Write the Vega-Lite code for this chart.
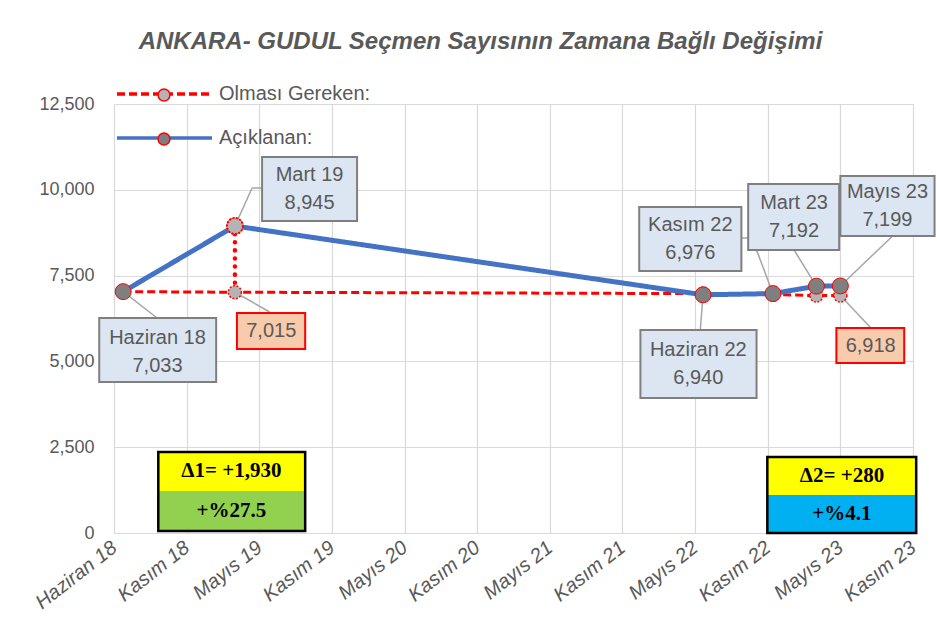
{
  "$schema": "https://vega.github.io/schema/vega-lite/v6.json",
  "width": 799,
  "height": 429,
  "autosize": {"type": "none"},
  "padding": {"left": 114, "top": 104, "right": 24, "bottom": 108},
  "background": "white",
  "title": {
    "text": "ANKARA- GUDUL Seçmen Sayısının Zamana Bağlı Değişimi",
    "font": "Liberation Sans",
    "fontSize": 24,
    "fontWeight": "bold",
    "fontStyle": "italic",
    "color": "#595959",
    "anchor": "middle",
    "dx": -33,
    "offset": 28
  },
  "datasets": {
    "series": [
      {"date": "2018-06-24", "series": "Açıklanan:", "value": 7033},
      {"date": "2019-03-31", "series": "Açıklanan:", "value": 8945},
      {"date": "2022-06-16", "series": "Açıklanan:", "value": 6940},
      {"date": "2022-12-08", "series": "Açıklanan:", "value": 6976},
      {"date": "2023-03-27", "series": "Açıklanan:", "value": 7192},
      {"date": "2023-05-26", "series": "Açıklanan:", "value": 7199},
      {"date": "2018-06-24", "series": "Olması Gereken:", "value": 7033},
      {"date": "2019-03-31", "series": "Olması Gereken:", "value": 7015},
      {"date": "2022-06-16", "series": "Olması Gereken:", "value": 6975},
      {"date": "2022-12-08", "series": "Olması Gereken:", "value": 6945},
      {"date": "2023-03-27", "series": "Olması Gereken:", "value": 6918},
      {"date": "2023-05-26", "series": "Olması Gereken:", "value": 6918}
    ],
    "gaps": [
      {"date": "2019-03-31", "top": 8945, "bottom": 7015}
    ],
    "leaders": [
      {"x": "2018-06-24", "y": 7033, "x2": "2018-09-17", "y2": 6265},
      {"x": "2019-03-31", "y": 8945, "x2": "2019-05-13", "y2": 10053},
      {"x": "2019-05-13", "y": 10053, "x2": "2019-06-07", "y2": 10053},
      {"x": "2019-03-31", "y": 7015, "x2": "2019-06-26", "y2": 6440},
      {"x": "2022-06-16", "y": 6940, "x2": "2022-06-09", "y2": 5915},
      {"x": "2022-12-08", "y": 6976, "x2": "2022-10-28", "y2": 8246},
      {"x": "2022-09-20", "y": 8596, "x2": "2022-10-07", "y2": 8596},
      {"x": "2023-03-27", "y": 7192, "x2": "2023-01-30", "y2": 8246},
      {"x": "2023-05-26", "y": 7199, "x2": "2023-10-02", "y2": 8634},
      {"x": "2023-05-26", "y": 6918, "x2": "2023-08-10", "y2": 5982}
    ],
    "callouts": [
      {"label": "Haziran 18\n7,033", "x1": "2018-04-25", "x2": "2019-02-12", "y1": 6265, "y2": 4400, "tx": "2018-09-18", "ty": 5274},
      {"label": "Mart 19\n8,945", "x1": "2019-06-07", "x2": "2020-01-31", "y1": 10956, "y2": 9091, "tx": "2019-10-04", "ty": 10023},
      {"label": "Haziran 22\n6,940", "x1": "2022-01-10", "x2": "2022-10-28", "y1": 5915, "y2": 3934, "tx": "2022-06-04", "ty": 4924},
      {"label": "Kasım 22\n6,976", "x1": "2022-01-07", "x2": "2022-09-20", "y1": 9499, "y2": 7634, "tx": "2022-05-15", "ty": 8567},
      {"label": "Mart 23\n7,192", "x1": "2022-10-07", "x2": "2023-05-23", "y1": 10169, "y2": 8246, "tx": "2023-01-30", "ty": 9208},
      {"label": "Mayıs 23\n7,199", "x1": "2023-05-26", "x2": "2024-01-17", "y1": 10402, "y2": 8654, "tx": "2023-09-21", "ty": 9528}
    ],
    "expected": [
      {"label": "7,015", "x1": "2019-04-05", "x2": "2019-09-23", "y1": 6410, "y2": 5361, "tx": "2019-06-30", "ty": 5886},
      {"label": "6,918", "x1": "2023-05-16", "x2": "2023-11-02", "y1": 5973, "y2": 4953, "tx": "2023-08-10", "ty": 5463}
    ],
    "deltas": [
      {"key": "Δ1", "part": "fark", "text": "Δ1= +1,930", "x1": "2018-09-20", "x2": "2019-09-23", "y1": 2360, "y2": 1224, "tx": "2019-03-22", "ty": 1807},
      {"key": "Δ1", "part": "yüzde", "text": "+%27.5", "x1": "2018-09-20", "x2": "2019-09-23", "y1": 1224, "y2": 58, "tx": "2019-03-22", "ty": 641},
      {"key": "Δ2", "part": "fark", "text": "Δ2= +280", "x1": "2022-11-24", "x2": "2023-12-02", "y1": 2214, "y2": 1107, "tx": "2023-05-30", "ty": 1661},
      {"key": "Δ2", "part": "yüzde", "text": "+%4.1", "x1": "2022-11-24", "x2": "2023-12-02", "y1": 1107, "y2": 0, "tx": "2023-05-30", "ty": 554}
    ],
    "deltaFrames": [
      {"key": "Δ1", "x1": "2018-09-20", "x2": "2019-09-23", "y1": 2360, "y2": 58},
      {"key": "Δ2", "x1": "2022-11-24", "x2": "2023-12-02", "y1": 2214, "y2": 0}
    ]
  },
  "layer": [
    {
      "data": {"name": "leaders"},
      "mark": {"type": "rule", "color": "#a6a6a6", "strokeWidth": 1.5},
      "encoding": {
        "x": {
          "field": "x", "type": "temporal",
          "scale": {"type": "utc", "domain": [{"year": 2018, "month": 6, "date": 1, "utc": true}, {"year": 2023, "month": 11, "date": 24, "utc": true}]},
          "axis": {
            "title": null,
            "values": [
              {"year": 2018, "month": 6, "date": 1, "utc": true},
              {"year": 2018, "month": 11, "date": 30, "utc": true},
              {"year": 2019, "month": 5, "date": 31, "utc": true},
              {"year": 2019, "month": 11, "date": 29, "utc": true},
              {"year": 2020, "month": 5, "date": 29, "utc": true},
              {"year": 2020, "month": 11, "date": 27, "utc": true},
              {"year": 2021, "month": 5, "date": 28, "utc": true},
              {"year": 2021, "month": 11, "date": 26, "utc": true},
              {"year": 2022, "month": 5, "date": 27, "utc": true},
              {"year": 2022, "month": 11, "date": 25, "utc": true},
              {"year": 2023, "month": 5, "date": 26, "utc": true},
              {"year": 2023, "month": 11, "date": 24, "utc": true}
            ],
            "labelExpr": "['Ocak','Şubat','Mart','Nisan','Mayıs','Haziran','Temmuz','Ağustos','Eylül','Ekim','Kasım','Aralık'][utcmonth(datum.value)] + ' ' + utcFormat(datum.value, '%y')",
            "domain": false, "ticks": false, "grid": true, "gridColor": "#d9d9d9", "gridWidth": 1.2,
            "labelAngle": -38, "labelAlign": "right", "labelBaseline": "middle", "labelPadding": 12,
            "labelFont": "Liberation Sans", "labelFontSize": 20, "labelFontStyle": "italic", "labelColor": "#595959",
            "labelOverlap": false, "labelFlush": false, "labelBound": false
          }
        },
        "x2": {"field": "x2"},
        "y": {
          "field": "y", "type": "quantitative",
          "scale": {"domain": [0, 12500], "nice": false, "zero": true},
          "axis": {
            "title": null, "values": [0, 2500, 5000, 7500, 10000, 12500], "format": ",d",
            "domain": false, "ticks": false, "grid": true, "gridColor": "#d9d9d9", "gridWidth": 1.2,
            "labelPadding": 20, "labelFont": "Liberation Sans", "labelFontSize": 18, "labelColor": "#595959"
          }
        },
        "y2": {"field": "y2"}
      }
    },
    {
      "data": {"name": "series"},
      "transform": [{"filter": "datum.series === 'Olması Gereken:'"}],
      "mark": {"type": "line", "strokeWidth": 3},
      "encoding": {
        "x": {"field": "date", "type": "temporal"},
        "y": {"field": "value", "type": "quantitative"},
        "color": {
          "field": "series", "type": "nominal",
          "scale": {"domain": ["Olması Gereken:", "Açıklanan:"], "range": ["#ff0000", "#4472c4"]},
          "legend": {
            "orient": "none", "legendX": 1, "legendY": -22, "title": null, "padding": 0,
            "symbolType": "stroke", "symbolSize": 9025, "symbolStrokeWidth": 3.5,
            "clipHeight": 24,
            "labelFont": "Liberation Sans", "labelFontSize": 20, "labelColor": "#595959",
            "labelOffset": 5, "rowPadding": 20
          }
        },
        "strokeDash": {
          "field": "series", "type": "nominal",
          "scale": {"domain": ["Olması Gereken:", "Açıklanan:"], "range": [[8, 4], [1, 0]]}
        }
      }
    },
    {
      "data": {"name": "gaps"},
      "mark": {"type": "rule", "color": "#ff0000", "strokeWidth": 4.5, "strokeDash": [0.1, 8], "strokeCap": "round"},
      "encoding": {
        "x": {"field": "date", "type": "temporal"},
        "y": {"field": "top", "type": "quantitative"},
        "y2": {"field": "bottom"}
      }
    },
    {
      "data": {"name": "series"},
      "transform": [{"filter": "datum.series === 'Olması Gereken:'"}],
      "mark": {"type": "circle", "size": 170, "opacity": 1, "stroke": "#ff0000", "strokeWidth": 1.5, "strokeDash": [2, 1.5]},
      "encoding": {
        "x": {"field": "date", "type": "temporal"},
        "y": {"field": "value", "type": "quantitative"},
        "fill": {
          "field": "series", "type": "nominal",
          "scale": {"domain": ["Açıklanan:", "Olması Gereken:"], "range": ["#7f7f7f", "#b4b4b4"]},
          "legend": {
            "orient": "none", "legendX": 43, "legendY": -16, "title": null, "padding": 0,
            "values": ["Olması Gereken:", "Açıklanan:"],
            "symbolType": "circle", "symbolSize": 140, "symbolOpacity": 1,
            "labelExpr": "''", "labelOffset": 0, "rowPadding": 26, "zindex": 1,
            "encode": {"symbols": {"update": {
              "stroke": {"value": "#ff0000"},
              "strokeWidth": {"value": 1.5},
              "strokeDash": {"signal": "datum.value === 'Olması Gereken:' ? [2, 1.5] : [1, 0]"}
            }}}
          }
        }
      }
    },
    {
      "data": {"name": "series"},
      "transform": [{"filter": "datum.series === 'Açıklanan:'"}],
      "mark": {"type": "line", "strokeWidth": 5},
      "encoding": {
        "x": {"field": "date", "type": "temporal"},
        "y": {"field": "value", "type": "quantitative"},
        "color": {"field": "series", "type": "nominal"},
        "strokeDash": {"field": "series", "type": "nominal"}
      }
    },
    {
      "data": {"name": "series"},
      "transform": [{"filter": "datum.series === 'Açıklanan:'"}],
      "mark": {"type": "circle", "size": 256, "opacity": 1, "stroke": "#ff0000", "strokeWidth": 1},
      "encoding": {
        "x": {"field": "date", "type": "temporal"},
        "y": {"field": "value", "type": "quantitative"},
        "fill": {"field": "series", "type": "nominal"}
      }
    },
    {
      "data": {"name": "gaps"},
      "mark": {"type": "circle", "size": 256, "opacity": 1, "fill": "#b4b4b4", "stroke": "#ff0000", "strokeWidth": 2, "strokeDash": [2, 1.5]},
      "encoding": {
        "x": {"field": "date", "type": "temporal"},
        "y": {"field": "top", "type": "quantitative"}
      }
    },
    {
      "data": {"name": "callouts"},
      "mark": {"type": "rect", "fill": "#dce6f2", "stroke": "#7f7f7f", "strokeWidth": 2},
      "encoding": {
        "x": {"field": "x1", "type": "temporal"},
        "x2": {"field": "x2"},
        "y": {"field": "y1", "type": "quantitative"},
        "y2": {"field": "y2"}
      }
    },
    {
      "data": {"name": "callouts"},
      "mark": {"type": "text", "font": "Liberation Sans", "fontSize": 20, "color": "#595959", "lineBreak": "\n", "lineHeight": 28, "align": "center", "baseline": "middle", "dy": -14},
      "encoding": {
        "x": {"field": "tx", "type": "temporal"},
        "y": {"field": "ty", "type": "quantitative"},
        "text": {"field": "label"}
      }
    },
    {
      "data": {"name": "expected"},
      "mark": {"type": "rect", "fill": "#f8cbad", "stroke": "#ff0000", "strokeWidth": 2},
      "encoding": {
        "x": {"field": "x1", "type": "temporal"},
        "x2": {"field": "x2"},
        "y": {"field": "y1", "type": "quantitative"},
        "y2": {"field": "y2"}
      }
    },
    {
      "data": {"name": "expected"},
      "mark": {"type": "text", "font": "Liberation Sans", "fontSize": 20, "color": "#595959", "align": "center", "baseline": "middle"},
      "encoding": {
        "x": {"field": "tx", "type": "temporal"},
        "y": {"field": "ty", "type": "quantitative"},
        "text": {"field": "label"}
      }
    },
    {
      "data": {"name": "deltas"},
      "transform": [{"filter": "datum.part === 'fark'"}],
      "mark": {"type": "rect", "fill": "#ffff00"},
      "encoding": {
        "x": {"field": "x1", "type": "temporal"},
        "x2": {"field": "x2"},
        "y": {"field": "y1", "type": "quantitative"},
        "y2": {"field": "y2"}
      }
    },
    {
      "data": {"name": "deltas"},
      "transform": [{"filter": "datum.part === 'yüzde' && datum.key === 'Δ1'"}],
      "mark": {"type": "rect", "fill": "#92d050"},
      "encoding": {
        "x": {"field": "x1", "type": "temporal"},
        "x2": {"field": "x2"},
        "y": {"field": "y1", "type": "quantitative"},
        "y2": {"field": "y2"}
      }
    },
    {
      "data": {"name": "deltas"},
      "transform": [{"filter": "datum.part === 'yüzde' && datum.key === 'Δ2'"}],
      "mark": {"type": "rect", "fill": "#00b0f0"},
      "encoding": {
        "x": {"field": "x1", "type": "temporal"},
        "x2": {"field": "x2"},
        "y": {"field": "y1", "type": "quantitative"},
        "y2": {"field": "y2"}
      }
    },
    {
      "data": {"name": "deltaFrames"},
      "mark": {"type": "rect", "fill": null, "fillOpacity": 0, "stroke": "#000000", "strokeWidth": 2.5},
      "encoding": {
        "x": {"field": "x1", "type": "temporal"},
        "x2": {"field": "x2"},
        "y": {"field": "y1", "type": "quantitative"},
        "y2": {"field": "y2"}
      }
    },
    {
      "data": {"name": "deltas"},
      "mark": {"type": "text", "font": "Liberation Serif", "fontSize": 21, "fontWeight": "bold", "color": "#000000", "align": "center", "baseline": "middle"},
      "encoding": {
        "x": {"field": "tx", "type": "temporal"},
        "y": {"field": "ty", "type": "quantitative"},
        "text": {"field": "text"}
      }
    }
  ],
  "config": {
    "view": {"stroke": null}
  }
}
